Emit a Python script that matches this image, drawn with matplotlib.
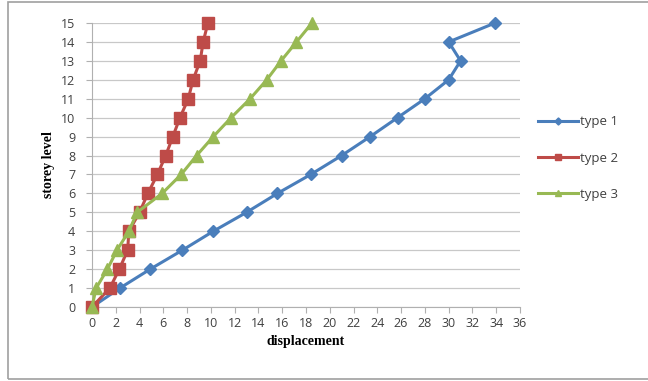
import matplotlib
matplotlib.use("Agg")
import matplotlib.pyplot as plt
from matplotlib.patches import Rectangle

levels = list(range(16))
type1 = [0, 2.35, 4.9, 7.6, 10.2, 13.0, 15.6, 18.4, 21.0, 23.4, 25.7, 28.0, 30.0, 31.0, 30.0, 33.9]
type2 = [0, 1.5, 2.3, 3.0, 3.1, 4.0, 4.7, 5.5, 6.2, 6.8, 7.4, 8.1, 8.5, 9.1, 9.35, 9.75]
type3 = [0, 0.35, 1.3, 2.1, 3.1, 3.8, 5.9, 7.5, 8.8, 10.2, 11.7, 13.3, 14.7, 15.9, 17.2, 18.5]
xticks = list(range(0, 37, 2))

fig = plt.figure(figsize=(6.48, 3.81), dpi=100)
ax = fig.add_axes([92/648, 1-307/381, 428/648, 284/381])

# outer chart frame
fig.patches.append(Rectangle((8/648, 2/381), 660/648, 377/381, transform=fig.transFigure,
                             fill=False, edgecolor='#a0a0a0', linewidth=1.2))

ax.plot(type1, levels, color='#4A7EBB', lw=2.2, marker='D', ms=6, label='type 1', zorder=3, clip_on=False)
ax.plot(type2, levels, color='#BE4B48', lw=2.2, marker='s', ms=8, label='type 2', zorder=4, clip_on=False)
ax.plot(type3, levels, color='#98B954', lw=2.2, marker='^', ms=8, label='type 3', zorder=5, clip_on=False)

ax.set_xlim(0, 36)
ax.set_ylim(0, 15)
ax.set_xticks(xticks)
ax.set_yticks(levels)
ax.yaxis.grid(True, color='#c8c8c8', lw=0.9)
ax.set_axisbelow(True)
for s in ['top', 'right']:
    ax.spines[s].set_visible(False)
ax.spines['bottom'].set_color('#b0b0b0')
ax.spines['left'].set_color('#b0b0b0')
ax.tick_params(axis='x', length=4, color='#b0b0b0', labelsize=9, labelcolor='#404040', pad=3)
ax.tick_params(axis='y', length=4, color='#b0b0b0', labelsize=9, labelcolor='#404040', pad=8)
for lab in ax.get_xticklabels() + ax.get_yticklabels():
    lab.set_family('Open Sans')

ax.set_xlabel('displacement', family='Liberation Serif', weight='bold', fontsize=10, labelpad=4)
ax.set_ylabel('storey level', family='Liberation Serif', weight='bold', fontsize=10, labelpad=4)

leg = fig.legend(loc='center left', bbox_to_anchor=(538/648, 1-158/381), frameon=False,
                 borderpad=0, borderaxespad=0, labelspacing=1.75, handlelength=3.0,
                 handletextpad=0.2, markerscale=0.6,
                 prop={'family': 'Open Sans', 'size': 9.5})
for t in leg.get_texts():
    t.set_color('#404040')

fig.savefig('out.png', dpi=100)
